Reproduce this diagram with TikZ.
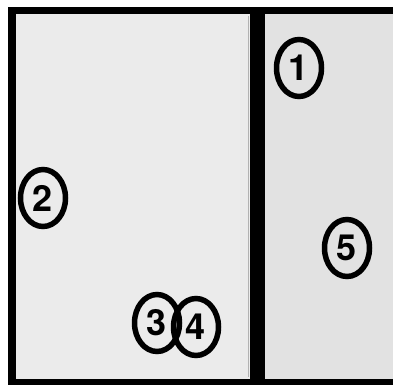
\documentclass[tikz,border=0pt]{standalone}
\usepackage{fontspec}
\setmainfont{TeX Gyre Heros}
\usetikzlibrary{shapes.geometric}
\definecolor{leftfill}{HTML}{EBEBEB}
\definecolor{rightfill}{HTML}{E2E2E2}
\tikzset{
  numoval/.style={ellipse, draw=black, line width=5.5pt, fill=none, inner sep=0pt,
    minimum width=45pt, minimum height=57pt,
    font=\fontsize{36}{36}\selectfont\bfseries},
}
\begin{document}
\begin{tikzpicture}[x=1pt,y=-1pt]
\useasboundingbox (0,0) rectangle (393,385);
\fill[white] (0,0) rectangle (393,385);
% panels
\fill[leftfill] (16,14) rectangle (250,379);
\fill[rightfill] (265,14) rectangle (393,379);
\draw[gray!60, line width=0.8pt] (248.5,16) -- (248.5,377);
% frame
\fill[black] (8,7) rectangle (393,14.5);
\fill[black] (8,7) rectangle (16,385);
\fill[black] (8,379) rectangle (393,385);
\fill[black] (250,7) rectangle (265,379);
% markers
\node[numoval] (m1) at (299,68) {1};
\node[numoval] (m2) at (43,198) {2};
\node[numoval] (m3) at (157,323) {3};
\node[numoval] (m4) at (196,327) {4};
\node[numoval] (m5) at (347,248) {5};
\end{tikzpicture}
\end{document}
